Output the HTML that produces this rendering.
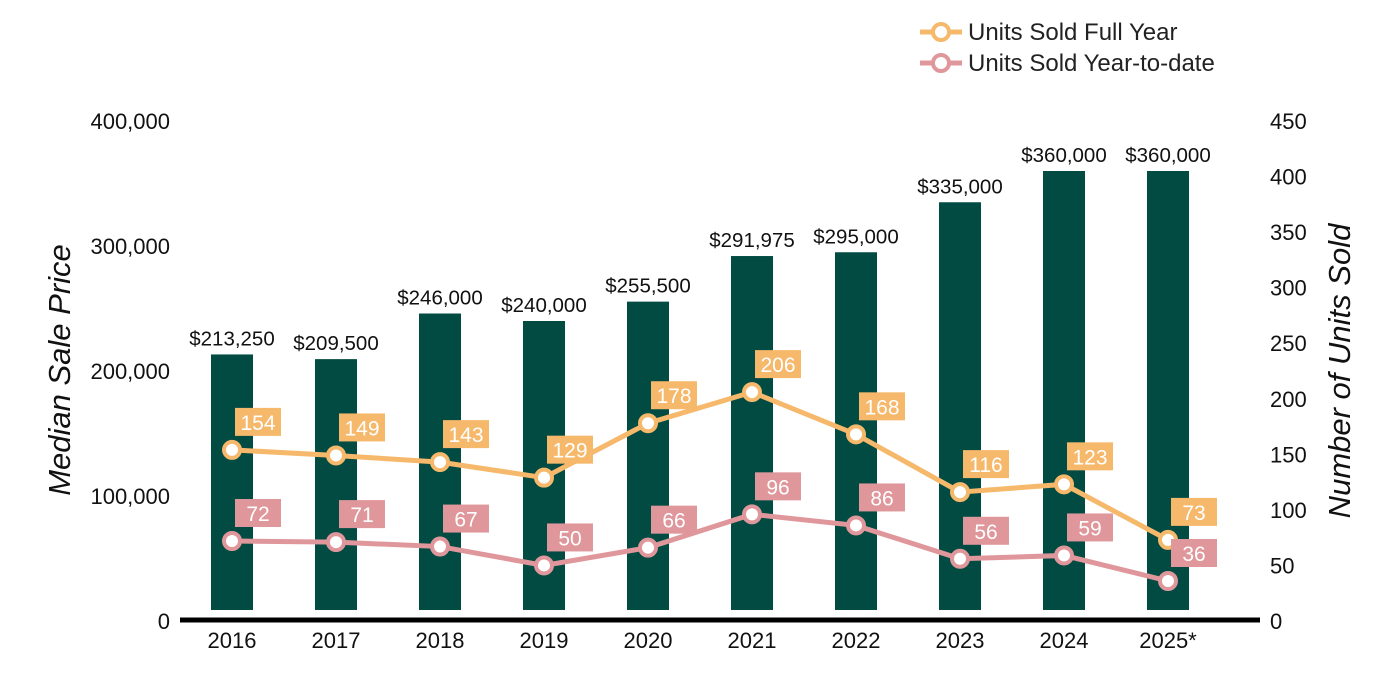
<!DOCTYPE html>
<html><head><meta charset="utf-8"><style>
body{margin:0;background:#fff;}
svg{display:block;font-family:"Liberation Sans",Arial,sans-serif;}
</style></head><body>
<svg id="chart" width="1400" height="700">
<g id="legend">
  <g>
    <line x1="920" y1="32" x2="962" y2="32" stroke="#F6B86B" stroke-width="5"/>
    <circle cx="941" cy="32" r="8" fill="#fff" stroke="#F6B86B" stroke-width="4"/>
    <text x="968" y="40" font-size="24" fill="#222">Units Sold Full Year</text>
  </g>
  <g>
    <line x1="920" y1="63" x2="962" y2="63" stroke="#E0979B" stroke-width="5"/>
    <circle cx="941" cy="63" r="8" fill="#fff" stroke="#E0979B" stroke-width="4"/>
    <text x="968" y="71" font-size="24" fill="#222">Units Sold Year-to-date</text>
  </g>
</g>
<text transform="translate(70,370) rotate(-90)" text-anchor="middle" font-size="31" font-style="italic" fill="#111">Median Sale Price</text>
<text transform="translate(1350,371) rotate(-90)" text-anchor="middle" font-size="31" font-style="italic" fill="#111">Number of Units Sold</text>
<g id="g"></g>
</svg>
<script>
const categories=["2016","2017","2018","2019","2020","2021","2022","2023","2024","2025*"];
const prices=[213250,209500,246000,240000,255500,291975,295000,335000,360000,360000];
const fullYear=[154,149,143,129,178,206,168,116,123,73];
const ytd=[72,71,67,50,66,96,86,56,59,36];
const leftTicks=[0,100000,200000,300000,400000];
const rightTicks=[0,50,100,150,200,250,300,350,400,450];
const NS="http://www.w3.org/2000/svg";
const g=document.getElementById('g');
const y0=621,yTop=121;
const yL=v=>y0-(v/400000)*(y0-yTop);
const yR=v=>y0-(v/450)*(y0-yTop);
const xC=i=>232+i*104;
function mk(t,a,txt){const e=document.createElementNS(NS,t);for(const k in a)e.setAttribute(k,a[k]);if(txt!==undefined)e.textContent=txt;g.appendChild(e);return e;}
leftTicks.forEach(v=>{const e=mk('text',{x:170,y:yL(v)+8,'text-anchor':'end','font-size':22,fill:'#111'},v.toLocaleString('en-US'));

});
rightTicks.forEach(v=>{const e=mk('text',{x:1270,y:yR(v)+8,'font-size':22,fill:'#111'},String(v));

});
prices.forEach((p,i)=>{const t=yL(p);
const b=mk('rect',{x:xC(i)-21,y:t,width:42,height:610-t,fill:'#024B43'});


const l=mk('text',{x:xC(i),y:t-9,'text-anchor':'middle','font-size':20.5,fill:'#111'},'$'+p.toLocaleString('en-US'));


const c=mk('text',{x:xC(i),y:648,'text-anchor':'middle','font-size':22,fill:'#111'},categories[i]);

});
const ax=mk('line',{x1:180,y1:620,x2:1260,y2:620,stroke:'#000','stroke-width':5});


function series(vals,color,name){
const pl=mk('polyline',{points:vals.map((v,i)=>xC(i)+','+yR(v)).join(' '),fill:'none',stroke:color,'stroke-width':5});


vals.forEach((v,i)=>{const cx=xC(i),cy=yR(v);
const r=mk('rect',{x:cx+3,y:cy-42,width:46,height:28,fill:color});


const t=mk('text',{x:cx+26,y:cy-20,'text-anchor':'middle','font-size':21,fill:'#fff'},String(v));


const c=mk('circle',{cx:cx,cy:cy,r:8,fill:'#fff',stroke:color,'stroke-width':4});

});}
series(fullYear,'#F6B86B','full-year');
series(ytd,'#E0979B','ytd');
</script>
</body></html>
